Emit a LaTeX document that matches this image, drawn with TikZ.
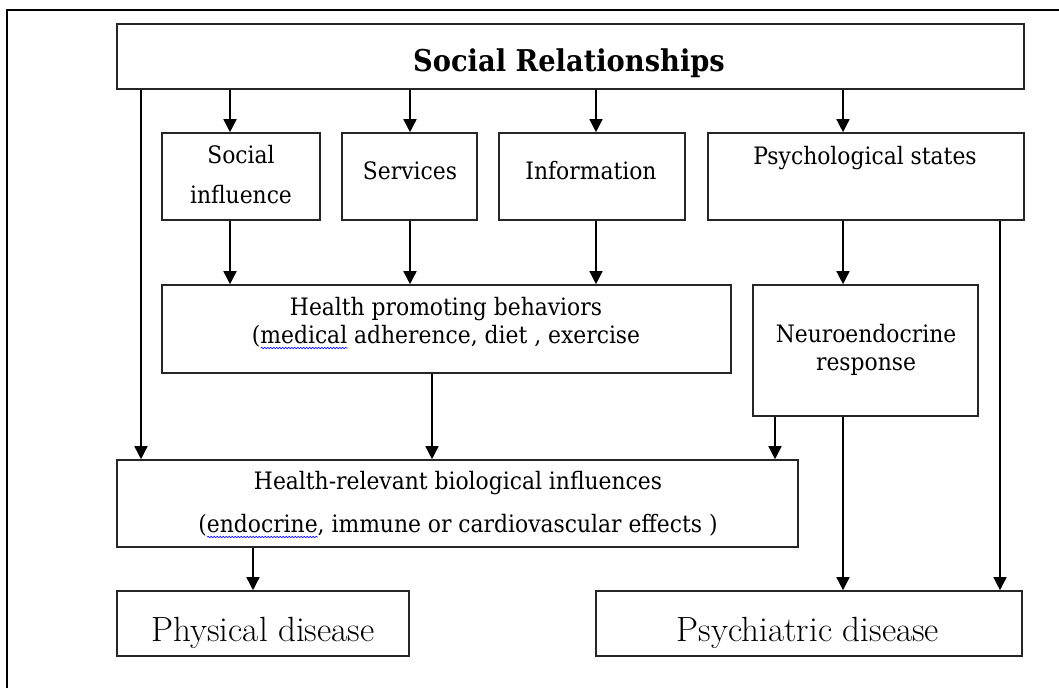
\documentclass[tikz,border=0pt]{standalone}
\usepackage{fontspec}
\setmainfont{DejaVu Serif}[FakeStretch=0.91]
\newfontfamily\lmfont{Latin Modern Roman}
\usetikzlibrary{arrows.meta,decorations.pathmorphing}
\tikzset{
  boxnode/.style={draw=black!85, line width=1.6pt, inner sep=0pt, fill=white},
  lbl/.style={anchor=base, inner sep=0pt, font=\fontsize{24}{28}\selectfont},
  big/.style={anchor=base, inner sep=0pt, font=\lmfont\fontsize{35}{40}\selectfont},
  arr/.style={line width=1.5pt, -{Triangle[width=13pt,length=13pt]}},
  spell/.style={draw=blue!85!black, line width=0.6pt, decorate,
    decoration={snake, amplitude=0.7pt, segment length=3pt}}
}
% wavy blue underline for flagged words
\newlength\spellw
\newcommand\spellwave[1]{\settowidth\spellw{#1}%
  \rlap{\raisebox{-6pt}[0pt][0pt]{\tikz\draw[spell] (0pt,0pt) -- (\spellw,0pt);}}#1}
\begin{document}
\begin{tikzpicture}[x=1pt,y=-1pt]
\useasboundingbox (0,0) rectangle (1059,688);
% page frame
\draw[line width=2pt] (7,688) -- (7,10) -- (1059,10);

% boxes
\node[boxnode, minimum width=907pt, minimum height=65pt] (top) at (570.5,56.5) {};
\node[boxnode, minimum width=158pt, minimum height=87pt] (si)  at (241,176.5) {};
\node[boxnode, minimum width=135pt, minimum height=87pt] (sv)  at (409.5,176.5) {};
\node[boxnode, minimum width=186pt, minimum height=87pt] (inf) at (592,176.5) {};
\node[boxnode, minimum width=316pt, minimum height=87pt] (ps)  at (866,176.5) {};
\node[boxnode, minimum width=569pt, minimum height=88pt] (hp)  at (446.5,329) {};
\node[boxnode, minimum width=225pt, minimum height=131pt] (ne) at (865.5,350.5) {};
\node[boxnode, minimum width=681pt, minimum height=87pt] (hr)  at (457.5,503.5) {};
\node[boxnode, minimum width=292pt, minimum height=65pt] (pd)  at (263,623.5) {};
\node[boxnode, minimum width=426pt, minimum height=65pt] (psd) at (809,623.5) {};

% labels
\node[anchor=base, inner sep=0pt, font=\fontsize{30}{34}\selectfont\bfseries] (tTop) at (569,71) {Social Relationships};
\node[lbl] (tSi1) at (241,163) {Social};
\node[lbl] (tSi2) at (241,203) {influence};
\node[lbl] (tSv) at (410,179) {Services};
\node[lbl] (tInf) at (591,179) {Information};
\node[lbl] (tPs) at (865,164) {Psychological states};
\node[lbl] (tHp1) at (446,315) {Health promoting behaviors};
\node[lbl] (tHp2) at (446,343) {(\spellwave{medical} adherence, diet , exercise};
\node[lbl] (tNe1) at (866,342) {Neuroendocrine};
\node[lbl] (tNe2) at (866,370) {response};
\node[lbl] (tHr1) at (458,489) {Health-relevant biological influences};
\node[lbl] (tHr2) at (458,532) {(\spellwave{endocrine}, immune or cardiovascular effects )};
\node[big] (tPd) at (263,641) {Physical disease};
\node[big] (tPsd) at (808,641) {Psychiatric disease};

% connector columns
\coordinate (xa) at (141,0);
\coordinate (xb) at (230,0);
\coordinate (xc) at (410,0);
\coordinate (xd) at (596,0);
\coordinate (xe) at (843,0);
\coordinate (xf) at (1000,0);
\coordinate (xg) at (432,0);
\coordinate (xh) at (775,0);
\coordinate (xi) at (253,0);

% connectors
\draw[arr] (top.south -| xa) -- (hr.north -| xa);
\draw[arr] (top.south -| xb) -- (si.north -| xb);
\draw[arr] (top.south -| xc) -- (sv.north -| xc);
\draw[arr] (top.south -| xd) -- (inf.north -| xd);
\draw[arr] (top.south -| xe) -- (ps.north -| xe);
\draw[arr] (si.south -| xb) -- (hp.north -| xb);
\draw[arr] (sv.south -| xc) -- (hp.north -| xc);
\draw[arr] (inf.south -| xd) -- (hp.north -| xd);
\draw[arr] (ps.south -| xe) -- (ne.north -| xe);
\draw[arr] (ps.south -| xf) -- (psd.north -| xf);
\draw[arr] (hp.south -| xg) -- (hr.north -| xg);
\draw[arr] (ne.south -| xh) -- (hr.north -| xh);
\draw[arr] (ne.south -| xe) -- (psd.north -| xe);
\draw[arr] (hr.south -| xi) -- (pd.north -| xi);
\end{tikzpicture}
\end{document}
